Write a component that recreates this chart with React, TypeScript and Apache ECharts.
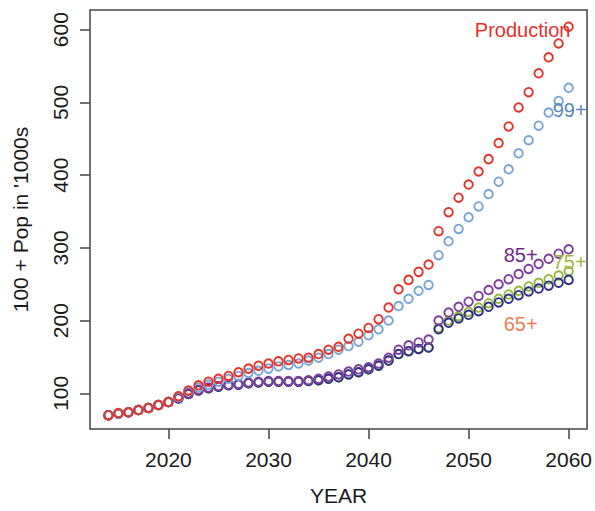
import React, { useEffect, useRef } from "react";
import * as echarts from "echarts";

const years = [
  2014, 2015, 2016, 2017, 2018, 2019, 2020,
  2021, 2022, 2023, 2024, 2025, 2026, 2027, 2028, 2029, 2030,
  2031, 2032, 2033, 2034, 2035, 2036, 2037, 2038, 2039, 2040,
  2041, 2042, 2043, 2044, 2045, 2046, 2047, 2048, 2049, 2050,
  2051, 2052, 2053, 2054, 2055, 2056, 2057, 2058, 2059, 2060,
];

const production = [
  70, 73, 74, 77, 80, 84, 88,
  96, 104, 111, 116, 120, 124, 129, 134, 138, 141,
  144, 146, 148, 149, 154, 160, 164, 175, 182, 190,
  202, 218, 243, 256, 267, 277, 323, 349, 369, 387,
  405, 422, 444, 467, 493, 514, 540, 562, 581, 604,
];

const age99 = [
  70, 72, 74, 77, 80, 84, 88,
  95, 103, 108, 112, 116, 120, 124, 128, 131, 134,
  137, 139, 141, 145, 149, 154, 160, 165, 171, 180,
  188, 200, 220, 230, 241, 249, 290, 309, 326, 342,
  357, 374, 391, 408, 430, 448, 468, 486, 502, 520,
];

const age85 = [
  70, 72, 74, 77, 80, 84, 88,
  94, 100, 105, 108, 110, 112, 113, 115, 116, 117,
  117, 117, 117, 118, 120, 123, 126, 130, 133, 136,
  141, 149, 160, 166, 170, 174, 200, 211, 219, 226,
  234, 242, 250, 257, 264, 271, 278, 285, 292, 298,
];

const age75 = [
  70, 72, 74, 77, 80, 84, 88,
  93, 99, 104, 107, 109, 111, 112, 114, 115, 116,
  116, 116, 116, 117, 118, 120, 122, 126, 129, 133,
  138, 145, 154, 158, 161, 163, 190, 200, 206, 212,
  218, 224, 230, 236, 241, 247, 252, 257, 262, 268,
];

const age65 = [
  70, 72, 74, 77, 80, 84, 88,
  93, 99, 104, 107, 109, 111, 112, 114, 115, 116,
  116, 116, 116, 117, 118, 120, 122, 126, 129, 133,
  138, 145, 154, 158, 161, 163, 188, 197, 203, 208,
  213, 219, 225, 230, 235, 240, 244, 248, 252, 256,
];

const xTicks = [2020, 2030, 2040, 2050, 2060];
const yTicks = [100, 200, 300, 400, 500, 600];

// drawn in this order (last on top)
const seriesDefs = [
  { name: "75+", data: age75, color: "#93b83c" },
  { name: "65+", data: age65, color: "#2e3087" },
  { name: "85+", data: age85, color: "#7d3f9f" },
  { name: "99+", data: age99, color: "#78a5d6" },
  { name: "Production", data: production, color: "#e5352b" },
];

const labelDefs = [
  { text: "Production", x: 2055.4, y: 600, color: "#e3322a" },
  { text: "99+", x: 2060.1, y: 489, color: "#5a88ba" },
  { text: "85+", x: 2055.2, y: 290, color: "#6b2c8d" },
  { text: "75+", x: 2060.1, y: 280, color: "#a3b640" },
  { text: "65+", x: 2055.2, y: 196, color: "#f27b57" },
];

const FONT = "'Liberation Sans', Arial, Helvetica, sans-serif";

export default function App() {
  const ref = useRef<HTMLDivElement>(null);
  useEffect(() => {
    if (!ref.current) return;
    const chart = echarts.init(ref.current, null, { renderer: "svg" });
    chart.setOption({
      animation: false,
      backgroundColor: "#ffffff",
      grid: {
        left: 90,
        right: 6,
        top: 10,
        bottom: 77,
        show: true,
        borderColor: "#444444",
        borderWidth: 1.5,
        backgroundColor: "transparent",
      },
      xAxis: {
        type: "value",
        min: 2012.16,
        max: 2061.84,
        name: "YEAR",
        nameLocation: "middle",
        nameGap: 56,
        nameTextStyle: { fontSize: 21, color: "#1a1a1a", fontFamily: FONT },
        axisLine: { show: false },
        splitLine: { show: false },
        axisTick: {
          show: true,
          length: 10,
          customValues: xTicks,
          lineStyle: { color: "#444", width: 1.5 },
        },
        axisLabel: {
          customValues: xTicks,
          formatter: (v: number) => String(v),
          fontSize: 21,
          color: "#1a1a1a",
          fontFamily: FONT,
          margin: 20,
        },
      },
      yAxis: {
        type: "value",
        min: 51,
        max: 627,
        name: "100 + Pop in '1000s",
        nameLocation: "middle",
        nameGap: 59,
        nameTextStyle: { fontSize: 21, color: "#1a1a1a", fontFamily: FONT },
        axisLine: { show: false },
        splitLine: { show: false },
        axisTick: {
          show: true,
          length: 10,
          customValues: yTicks,
          lineStyle: { color: "#444", width: 1.5 },
        },
        axisLabel: {
          customValues: yTicks,
          formatter: (v: number) => String(v),
          rotate: 90,
          fontSize: 21,
          color: "#1a1a1a",
          fontFamily: FONT,
          margin: 19,
        },
      },
      series: seriesDefs.map((s) => ({
        type: "scatter",
        name: s.name,
        data: years.map((yr, i) => [yr, s.data[i]]),
        symbol: "circle",
        symbolSize: 8.5,
        silent: true,
        itemStyle: {
          color: "rgba(255,255,255,0)",
          borderColor: s.color,
          borderWidth: 1.9,
          opacity: 1,
        },
      })),
    });
    const graphics = labelDefs.map((l) => {
      const p = chart.convertToPixel({ gridIndex: 0 }, [l.x, l.y]) as number[];
      return {
        type: "text",
        x: p[0],
        y: p[1],
        z: 100,
        style: {
          text: l.text,
          fill: l.color,
          fontSize: 20,
          fontFamily: FONT,
          align: "center",
          verticalAlign: "middle",
        },
      };
    });
    chart.setOption({ graphic: graphics });
    return () => chart.dispose();
  }, []);
  return (
    <div
      ref={ref}
      style={{ position: "absolute", left: 0, top: 0, width: 595, height: 511 }}
    />
  );
}
